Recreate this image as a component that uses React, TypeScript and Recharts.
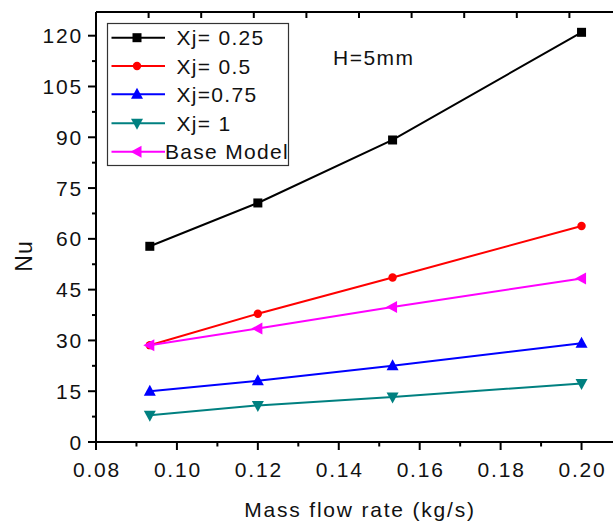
import React from "react";
import { LineChart, Line, XAxis, YAxis, Legend } from "recharts";

const xValues = [0.0933, 0.12, 0.1533, 0.2];
const nu025 = [57.8, 70.6, 89.2, 121.0];
const nu05 = [28.6, 37.9, 48.6, 63.8];
const nu075 = [15.0, 18.1, 22.5, 29.2];
const nu1 = [7.9, 10.8, 13.3, 17.3];
const nuBase = [28.6, 33.5, 39.9, 48.3];

const xTicks = [0.08, 0.09, 0.1, 0.11, 0.12, 0.13, 0.14, 0.15, 0.16, 0.17, 0.18, 0.19, 0.2, 0.21];
const yTicks = [0, 7.5, 15, 22.5, 30, 37.5, 45, 52.5, 60, 67.5, 75, 82.5, 90, 97.5, 105, 112.5, 120];
const topTicks = [0.093, 0.106, 0.119, 0.132, 0.145, 0.158, 0.171, 0.184, 0.197];

const seriesNames = ["Xj= 0.25", "Xj= 0.5", "Xj=0.75", "Xj= 1", "Base Model"];
const seriesKeys = ["a", "b", "c", "d", "e"];
const seriesColors = ["#000000", "#ff0000", "#0000ff", "#008080", "#ff00ff"];
const seriesShapes = ["square", "circle", "up", "down", "left"];

const data = xValues.map((x, i) => ({
  x,
  a: nu025[i],
  b: nu05[i],
  c: nu075[i],
  d: nu1[i],
  e: nuBase[i],
}));

const FONT = "'Liberation Sans', Arial, sans-serif";

function Marker({ shape, cx, cy, color }: { shape: string; cx: number; cy: number; color: string }) {
  if (shape === "square") {
    return <rect x={cx - 4.5} y={cy - 4.5} width={9} height={9} fill={color} />;
  }
  if (shape === "circle") {
    return <circle cx={cx} cy={cy} r={4.2} fill={color} />;
  }
  if (shape === "up") {
    return <polygon points={`${cx},${cy - 6.5} ${cx - 6},${cy + 4.5} ${cx + 6},${cy + 4.5}`} fill={color} />;
  }
  if (shape === "down") {
    return <polygon points={`${cx},${cy + 6.5} ${cx - 6},${cy - 4.5} ${cx + 6},${cy - 4.5}`} fill={color} />;
  }
  return <polygon points={`${cx - 6.5},${cy} ${cx + 4.5},${cy - 6} ${cx + 4.5},${cy + 6}`} fill={color} />;
}

function XTick(props: any) {
  const { x, y, payload } = props;
  const v = payload.value as number;
  const major = Math.round(v * 100) % 2 === 0;
  return (
    <g>
      <line x1={x} x2={x} y1={y} y2={y + (major ? 8 : 4.5)} stroke="#000" strokeWidth={2} />
      {major && v < 0.205 ? (
        <text x={x + 1} y={y + 34.5} textAnchor="middle" fontFamily={FONT} fontSize={21} letterSpacing={1.8} fill="#111">
          {v.toFixed(2)}
        </text>
      ) : null}
    </g>
  );
}

function YTick(props: any) {
  const { x, y, payload } = props;
  const v = payload.value as number;
  const major = Math.round(v * 10) % 150 === 0;
  return (
    <g>
      <line x1={x - (major ? 8 : 4)} x2={x} y1={y} y2={y} stroke="#000" strokeWidth={2} />
      {major ? (
        <text x={x - 13} y={y + 7.5} textAnchor="end" fontFamily={FONT} fontSize={21} letterSpacing={1.8} fill="#111">
          {String(v)}
        </text>
      ) : null}
    </g>
  );
}

function TopTick(props: any) {
  const { x, y } = props;
  return <line x1={x} x2={x} y1={y} y2={y + 6} stroke="#000" strokeWidth={2} />;
}

function LegendBox() {
  const rows = [37.7, 66, 94.3, 123.3, 151.7];
  return (
    <svg width={613} height={200} style={{ display: "block", overflow: "visible" }}>
      <rect x={107.5} y={23.5} width={181} height={142} fill="#fff" stroke="#333" strokeWidth={1.2} />
      {seriesNames.map((name, i) => (
        <g key={name}>
          <line x1={111.5} x2={165} y1={rows[i]} y2={rows[i]} stroke={seriesColors[i]} strokeWidth={2} />
          <Marker shape={seriesShapes[i]} cx={137} cy={rows[i]} color={seriesColors[i]} />
          <text
            x={i === 4 ? 165 : 176.5}
            y={rows[i] + 7.5}
            fontFamily={FONT}
            fontSize={21}
            letterSpacing={1.3}
            fill="#111"
          >
            {name}
          </text>
        </g>
      ))}
      <text x={333} y={64.5} fontFamily={FONT} fontSize={21} letterSpacing={1.5} fill="#111">
        H=5mm
      </text>
    </svg>
  );
}

export default function App() {
  return (
    <div
      style={{
        position: "fixed",
        left: 0,
        top: 0,
        width: 613,
        height: 525,
        overflow: "hidden",
        background: "#fff",
      }}
    >
      <LineChart width={660} height={525} data={data} margin={{ top: 1, right: 38, bottom: 0, left: 0 }}>
        <XAxis
          xAxisId="top"
          orientation="top"
          dataKey="x"
          type="number"
          domain={[0.08, 0.21]}
          ticks={topTicks}
          height={11}
          tickSize={0}
          tickMargin={0}
          tickLine={false}
          interval={0}
          axisLine={{ stroke: "#000", strokeWidth: 2 }}
          tick={(p: any) => <TopTick {...p} />}
        />
        <XAxis
          dataKey="x"
          type="number"
          domain={[0.08, 0.21]}
          ticks={xTicks}
          interval={0}
          height={83}
          tickSize={0}
          tickMargin={0}
          tickLine={false}
          axisLine={{ stroke: "#000", strokeWidth: 2 }}
          tick={(p: any) => <XTick {...p} />}
          label={{
            content: (p: any) => {
              const vb = p.viewBox || { x: 96, y: 442, width: 526, height: 83 };
              return (
                <text
                  x={vb.x + vb.width / 2 + 1}
                  y={vb.y + 75}
                  textAnchor="middle"
                  fontFamily={FONT}
                  fontSize={21}
                  letterSpacing={1.8}
                  fill="#111"
                >
                  Mass flow rate (kg/s)
                </text>
              );
            },
          }}
        />
        <YAxis
          type="number"
          domain={[0, 127]}
          ticks={yTicks}
          interval={0}
          width={96}
          tickSize={0}
          tickMargin={0}
          tickLine={false}
          axisLine={{ stroke: "#000", strokeWidth: 2 }}
          tick={(p: any) => <YTick {...p} />}
          label={{
            content: (p: any) => {
              const vb = p.viewBox || { x: 0, y: 12, width: 96, height: 430 };
              const cy = vb.y + vb.height / 2 + 29;
              return (
                <text
                  x={31.5}
                  y={cy}
                  transform={`rotate(-90, 31.5, ${cy})`}
                  textAnchor="middle"
                  fontFamily={FONT}
                  fontSize={23}
                  letterSpacing={1}
                  fill="#111"
                >
                  Nu
                </text>
              );
            },
          }}
        />
        <Legend
          layout="horizontal"
          verticalAlign="middle"
          align="center"
          wrapperStyle={{ position: "absolute", left: 0, top: 0, width: 613, height: 200, margin: 0, pointerEvents: "none" }}
          content={() => <LegendBox />}
        />
        {seriesKeys.map((k, i) => (
          <Line
            key={k}
            dataKey={k}
            name={seriesNames[i]}
            stroke={seriesColors[i]}
            strokeWidth={2}
            isAnimationActive={false}
            dot={(p: any) => (
              <Marker key={`${k}-${p.index}`} shape={seriesShapes[i]} cx={p.cx} cy={p.cy} color={seriesColors[i]} />
            )}
            activeDot={false}
          />
        ))}
      </LineChart>
    </div>
  );
}
